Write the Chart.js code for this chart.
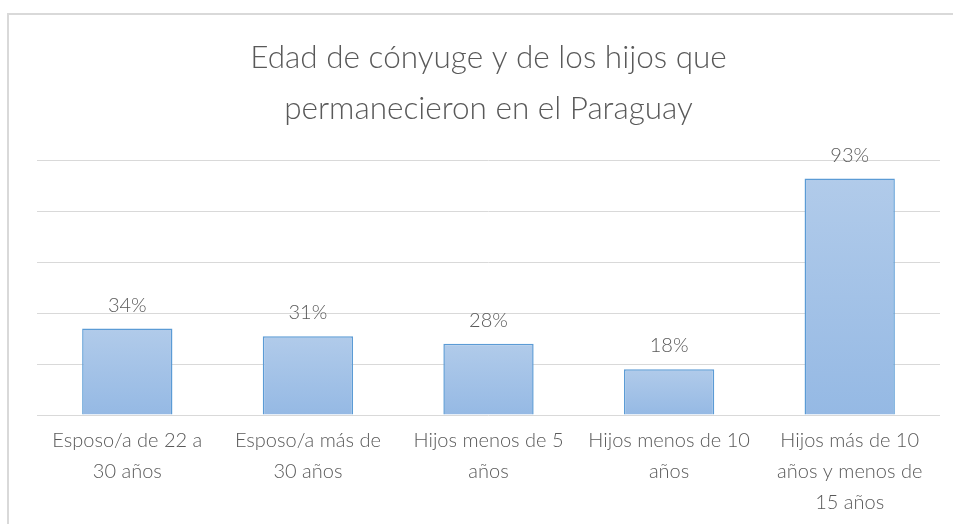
<!DOCTYPE html>
<html>
<head>
<meta charset="utf-8">
<script src="https://cdn.jsdelivr.net/npm/chart.js@4.4.0/dist/chart.umd.min.js"></script>
<style>
  html, body { margin: 0; padding: 0; background: #fff; }
  #marco { position: absolute; left: 0; top: 0; width: 953px; height: 524px; }
  #borde { position: absolute; left: 7px; top: 13px; width: 960px; height: 530px; border: 2px solid #d9d9d9; box-sizing: border-box; }
  canvas { position: absolute; left: 0; top: 0; }
</style>
</head>
<body>
<div id="marco">
  <div id="borde"></div>
  <canvas id="grafico" width="953" height="524"></canvas>
</div>
<script>
const categorias = [
  ['Esposo/a de 22 a', '30 años'],
  ['Esposo/a más de', '30 años'],
  ['Hijos menos de 5', 'años'],
  ['Hijos menos de 10', 'años'],
  ['Hijos más de 10', 'años y menos de', '15 años']
];
const porcentajes = [34, 31, 28, 18, 93];
const tituloLineas = ['Edad de cónyuge y de los hijos que', 'permanecieron en el Paraguay'];

const fuente = 'Lato, "Open Sans", sans-serif';
const gris = '#595959';

// etiquetas encima de cada barra
const etiquetasBarras = {
  id: 'etiquetasBarras',
  afterDatasetsDraw(chart) {
    const ctx = chart.ctx;
    const meta = chart.getDatasetMeta(0);
    ctx.save();
    ctx.font = '300 20px ' + fuente;
    ctx.fillStyle = gris;
    ctx.textAlign = 'center';
    ctx.textBaseline = 'alphabetic';
    meta.data.forEach((barra, i) => {
      ctx.fillText(porcentajes[i] + '%', barra.x, barra.y - 17);
    });
    ctx.restore();
  }
};

function degradado(context) {
  const chart = context.chart;
  const area = chart.chartArea;
  if (!area) return '#a5c2e7';
  const y = chart.scales.y;
  const arriba = y.getPixelForValue(context.raw);
  const abajo = y.getPixelForValue(0);
  const g = chart.ctx.createLinearGradient(0, arriba, 0, abajo);
  g.addColorStop(0, '#b1cbea');
  g.addColorStop(1, '#95b9e4');
  return g;
}

const ctx = document.getElementById('grafico').getContext('2d');
new Chart(ctx, {
  type: 'bar',
  data: {
    labels: categorias,
    datasets: [{
      data: porcentajes,
      backgroundColor: degradado,
      borderColor: '#5b9bd5',
      borderWidth: 1.5,
      barPercentage: 0.5,
      categoryPercentage: 1
    }]
  },
  options: {
    responsive: false,
    animation: false,
    layout: { padding: { left: 37, right: 13, top: 0, bottom: -4 } },
    scales: {
      x: {
        grid: { display: false, drawTicks: false },
        border: { display: false },
        ticks: {
          color: gris,
          font: { family: fuente, size: 20, weight: 300, lineHeight: 1.55 },
          padding: 10,
          maxRotation: 0,
          autoSkip: false
        }
      },
      y: {
        min: 0,
        max: 100,
        ticks: { stepSize: 20, display: false },
        grid: { color: '#d9d9d9', lineWidth: 1, drawTicks: false },
        border: { display: false }
      }
    },
    plugins: {
      legend: { display: false },
      tooltip: { enabled: false },
      title: {
        display: true,
        text: tituloLineas,
        color: gris,
        font: { family: fuente, size: 31.5, weight: 300, lineHeight: 1.6 },
        padding: { top: 33, bottom: 27 }
      }
    }
  },
  plugins: [etiquetasBarras]
});
</script>
</body>
</html>
